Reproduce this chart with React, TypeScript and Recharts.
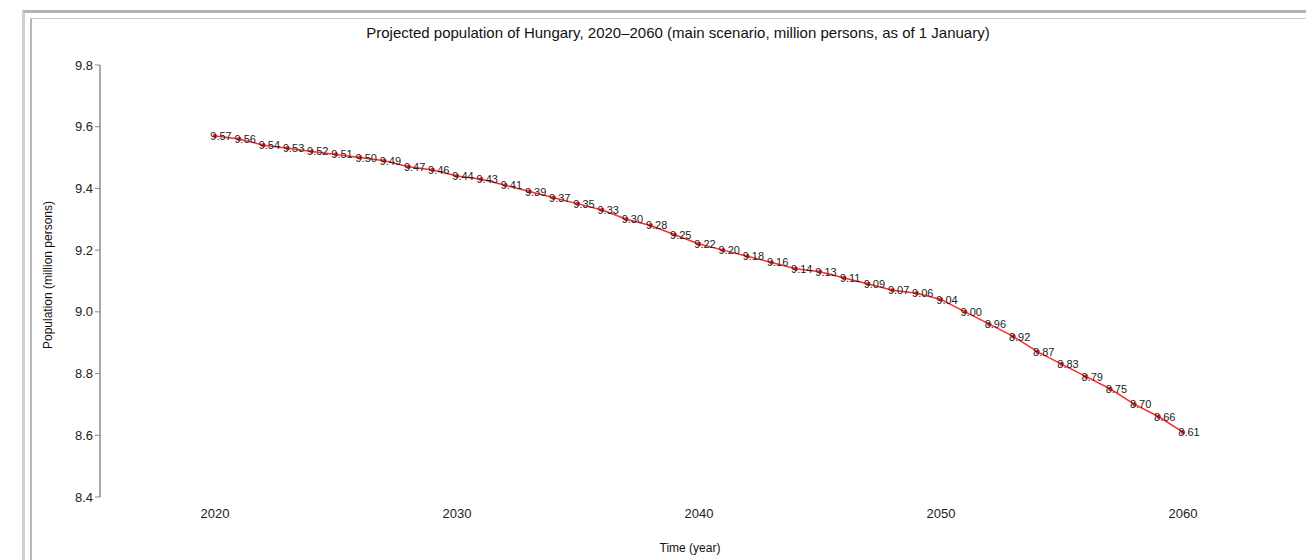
import React from 'react';
import { LineChart, Line, XAxis, YAxis, LabelList } from 'recharts';

const years = [2020,2021,2022,2023,2024,2025,2026,2027,2028,2029,2030,2031,2032,2033,2034,2035,2036,2037,2038,2039,2040,2041,2042,2043,2044,2045,2046,2047,2048,2049,2050,2051,2052,2053,2054,2055,2056,2057,2058,2059,2060];
const population = [9.57,9.56,9.54,9.53,9.52,9.51,9.50,9.49,9.47,9.46,9.44,9.43,9.41,9.39,9.37,9.35,9.33,9.30,9.28,9.25,9.22,9.20,9.18,9.16,9.14,9.13,9.11,9.09,9.07,9.06,9.04,9.00,8.96,8.92,8.87,8.83,8.79,8.75,8.70,8.66,8.61];
const xTicks = [2020, 2030, 2040, 2050, 2060];
const yTicks = [8.4, 8.6, 8.8, 9.0, 9.2, 9.4, 9.6, 9.8];

const title = 'Projected population of Hungary, 2020–2060 (main scenario, million persons, as of 1 January)';
const xLabel = 'Time (year)';
const yLabel = 'Population (million persons)';

const data = years.map((y, i) => ({ year: y, value: population[i] }));

const font = 'Liberation Sans, Arial, sans-serif';

const PointLabel = (props: any) => {
  const { x, y, value } = props;
  return (
    <text x={x + 6} y={y} dy={4} textAnchor="middle" fontSize={11} fontFamily={font} fill="#222">
      {Number(value).toFixed(2)}
    </text>
  );
};

export default function App() {
  return (
    <div style={{ position: 'absolute', left: 0, top: 0, width: 1306, height: 560, background: '#fff', overflow: 'hidden' }}>
      <div style={{ position: 'absolute', left: 22, top: 10, width: 1300, height: 560, borderTop: '3px solid #b4b4b4', borderLeft: '3px solid #d0d0d0' }} />
      <div style={{ position: 'absolute', left: 30, top: 18, width: 1300, height: 560, borderTop: '1px solid #c8c8c8', borderLeft: '2px solid #b8b8b8' }} />
      <div style={{ position: 'absolute', left: 0, top: 0 }}>
        <LineChart width={1306} height={560} data={data} margin={{ top: 65, right: 6, bottom: 33, left: 0 }}>
          <text x={678} y={38} textAnchor="middle" fontSize={15} fontFamily={font} fill="#111">{title}</text>
          <text x={690} y={552} textAnchor="middle" fontSize={12} fontFamily={font} fill="#111">{xLabel}</text>
          <text x={52} y={275} textAnchor="middle" fontSize={12} fontFamily={font} fill="#111" transform="rotate(-90 52 275)">{yLabel}</text>
          <XAxis
            dataKey="year"
            type="number"
            domain={[2020, 2060]}
            ticks={xTicks}
            padding={{ left: 115, right: 117 }}
            axisLine={false}
            tickLine={false}
            tick={{ fontSize: 13, fontFamily: font, fill: '#222', dy: 4 }}
          />
          <YAxis
            type="number"
            domain={[8.4, 9.8]}
            ticks={yTicks}
            width={100}
            axisLine={{ stroke: '#a8a8a8', strokeWidth: 2 }}
            tickLine={{ stroke: '#888' }}
            tickSize={5}
            tickFormatter={(v: number) => v.toFixed(1)}
            tick={{ fontSize: 13, fontFamily: font, fill: '#222' }}
          />
          <Line
            dataKey="value"
            stroke="#ff2a2a"
            strokeWidth={1.5}
            dot={{ r: 1.5, fill: '#ff2a2a', stroke: '#ff2a2a' }}
            isAnimationActive={false}
          >
            <LabelList dataKey="value" content={<PointLabel />} />
          </Line>
        </LineChart>
      </div>
    </div>
  );
}
